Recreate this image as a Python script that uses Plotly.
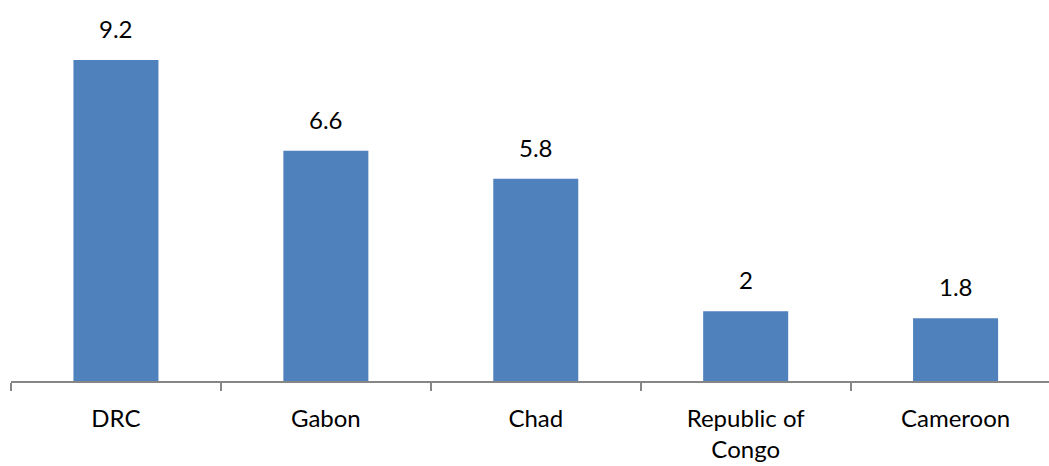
import plotly.graph_objects as go

categories = ["DRC", "Gabon", "Chad", "Republic of<br>Congo", "Cameroon"]
values = [9.2, 6.6, 5.8, 2, 1.8]
value_labels = ["9.2", "6.6", "5.8", "2", "1.8"]

BAR_COLOR = "#4F81BD"
FONT = "Lato, Open Sans, sans-serif"

fig = go.Figure(go.Bar(
    x=categories, y=values, marker_color=BAR_COLOR, marker_line_width=0,
    width=0.405, hoverinfo="skip",
))

for c, v, t in zip(categories, values, value_labels):
    fig.add_annotation(x=c, y=v, text=t, showarrow=False, yanchor="bottom",
                       yshift=15, font=dict(family=FONT, size=24, color="black"))

fig.update_layout(
    width=1049, height=466,
    margin=dict(l=10.5, r=0, t=0, b=85),
    plot_bgcolor="white", paper_bgcolor="white",
    showlegend=False,
    font=dict(family=FONT, size=24, color="black"),
)
fig.update_xaxes(
    range=[-0.5, 4.445], showline=True, linecolor="#868686", linewidth=1.5,
    ticks="outside", tickson="boundaries", ticklen=8, tickcolor="#868686",
    tickwidth=1.5, ticklabelstandoff=15, showgrid=False,
)
fig.update_yaxes(range=[0, 10.92], visible=False, showgrid=False)

fig.write_html("out.html", config={"displayModeBar": False},
               post_script="document.body.style.margin='0';")
